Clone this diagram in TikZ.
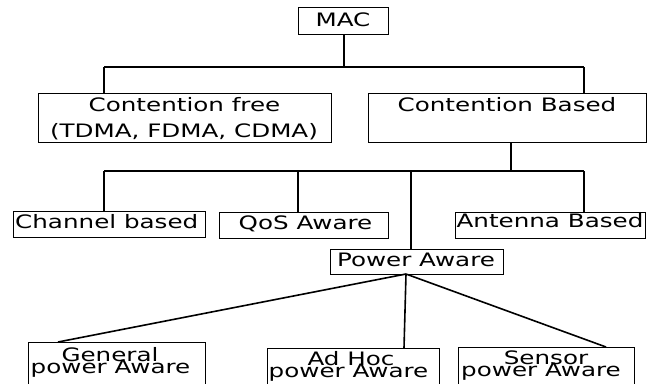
\documentclass[tikz,border=0pt]{standalone}
\usepackage{fontspec}
\setmainfont{DejaVu Sans}[FakeStretch=1.33]
\begin{document}
\begin{tikzpicture}[x=1pt,y=-1pt,
  box/.style={draw=black,line width=1pt,anchor=north west,inner sep=0pt},
  bigbox/.style={box,line width=1.4pt},
  conn/.style={draw=black,line width=1.6pt},
  txt/.style={anchor=base,inner sep=0pt,font=\fontsize{18.5}{18.5}\selectfont}]
\useasboundingbox (0,0) rectangle (652,383);
\clip (0,0) rectangle (652,383);

% boxes
\node[bigbox,minimum width=90pt,minimum height=27pt] (mac) at (298,7) {};
\node[bigbox,minimum width=293pt,minimum height=49pt] (cf) at (38,93) {};
\node[bigbox,minimum width=278pt,minimum height=49pt] (cb) at (368,93) {};
\node[box,minimum width=192pt,minimum height=26pt] (ch) at (13,211) {};
\node[box,minimum width=169pt,minimum height=26pt] (qos) at (219,212) {};
\node[box,minimum width=190pt,minimum height=26pt] (ant) at (455,212) {};
\node[box,minimum width=173pt,minimum height=25pt] (pw) at (330,249) {};
\node[box,minimum width=177pt,minimum height=50pt] (gen) at (28,342) {};
\node[box,minimum width=172pt,minimum height=50pt] (adh) at (267,348) {};
\node[box,minimum width=176pt,minimum height=50pt] (sen) at (458,347) {};

% texts
\node[txt] (tmac) at (343,26) {MAC};
\node[txt] (tcf1) at (184.5,111) {Contention free};
\node[txt] (tcf2) at (184,137) {(TDMA, FDMA, CDMA)};
\node[txt] (tcb) at (507,111) {Contention Based};
\node[txt,anchor=base west] (tch) at (15,228) {Channel based};
\node[txt] (tqos) at (305.5,229) {QoS Aware};
\node[txt] (tant) at (550,227) {Antenna Based};
\node[txt] (tpw) at (416,266) {Power Aware};
\node[txt] (tgen1) at (110,361) {General};
\node[txt] (tgen2) at (110.5,373) {power Aware};
\node[txt] (tadh1) at (351,365) {Ad Hoc};
\node[txt] (tadh2) at (348.5,377) {power Aware};
\node[txt] (tsen1) at (546,364) {Sensor};
\node[txt] (tsen2) at (541,376) {power Aware};

% junction points
\coordinate (l1) at (104,67);
\coordinate (r1) at (584,67);
\coordinate (l2) at (104,171);
\coordinate (r2) at (584,171);
\coordinate (s2) at (511,171);
\coordinate (q2) at (298,171);
\coordinate (p2) at (411,171);
\coordinate (apex) at (406,274);
\coordinate (genend) at (58,342);
\coordinate (adhend) at (404,348);
\coordinate (senend) at (606,347);

% first level
\draw[conn] (mac.south -| 344,0) -- (344,67);
\draw[conn] (l1) -- (r1);
\draw[conn] (l1) -- (l1 |- cf.north);
\draw[conn] (r1) -- (r1 |- cb.north);

% second level
\draw[conn] (s2 |- cb.south) -- (s2);
\draw[conn] (l2) -- (r2);
\draw[conn] (l2) -- (l2 |- ch.north);
\draw[conn] (q2) -- (q2 |- qos.north);
\draw[conn] (p2) -- (p2 |- pw.north);
\draw[conn] (r2) -- (r2 |- ant.north);

% power aware branches
\draw[conn] (apex) -- (genend);
\draw[conn] (apex) -- (adhend);
\draw[conn] (apex) -- (senend);
\end{tikzpicture}
\end{document}
